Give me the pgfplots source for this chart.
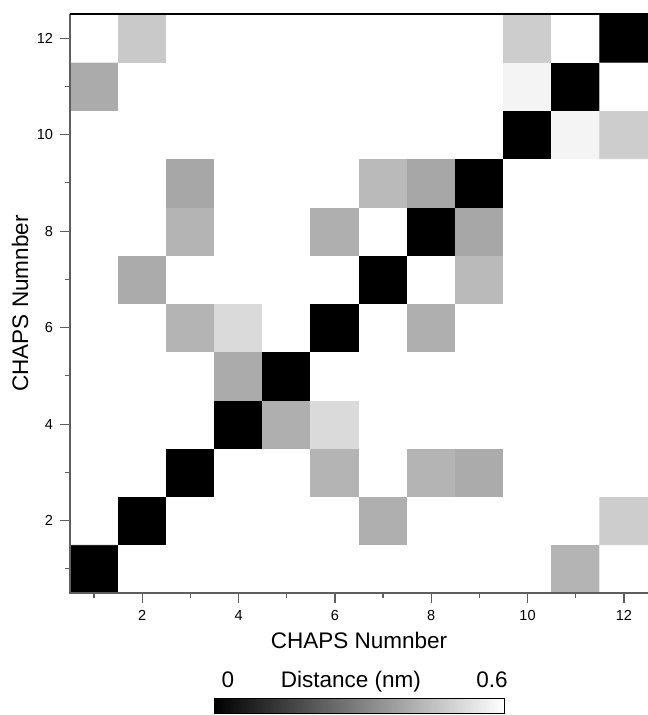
\documentclass[border=0pt]{standalone}
\usepackage{fontspec}
\setmainfont{Liberation Sans}
\usepackage{pgfplots}
\pgfplotsset{compat=1.18}
\definecolor{axgray}{RGB}{95,95,95}

\begin{document}
\begin{tikzpicture}
\useasboundingbox (-35bp,-61bp) rectangle (289bp,296.5bp);
\begin{axis}[
  at={(0,0)}, anchor=south west,
  scale only axis, width=289bp, height=289.5bp,
  xmin=0.5, xmax=12.5, ymin=0.5, ymax=12.5,
  enlargelimits=false, clip=false,
  axis line style={draw=none},
  tick pos=left, tick align=outside,
  xtick={2,4,...,12}, ytick={2,4,...,12},
  minor xtick={1,3,...,11}, minor ytick={1,3,...,11},
  major tick length=5bp, minor tick length=2.5bp,
  every tick/.style={axgray, line width=0.6bp},
  tick label style={font=\fontsize{7.3}{8}\selectfont},
  /pgf/number format/assume math mode=true,
  xlabel={CHAPS Numnber}, ylabel={CHAPS Numnber},
  label style={font=\fontsize{11.3}{13}\selectfont},
  xlabel style={at={(axis description cs:0.5,-0.095)}, anchor=base},
  ylabel style={at={(axis description cs:-0.0865,0.5)}, anchor=center},
  colormap={bw}{gray(0cm)=(0); gray(1cm)=(1)},
  point meta min=0, point meta max=0.6,
  colorbar horizontal,
  colorbar style={
    at={(parent axis.south)}, anchor=north, yshift=-44bp,
    scale only axis, width=145bp, height=7.6bp,
    xtick=\empty, ytick=\empty, xlabel={}, ylabel={},
    axis line style={black, line width=0.5bp},
  },
]
\addplot[matrix plot*, point meta=explicit, mesh/cols=12] coordinates {
(1,1)[0] (2,1)[0.6] (3,1)[0.6] (4,1)[0.6] (5,1)[0.6] (6,1)[0.6] (7,1)[0.6] (8,1)[0.6] (9,1)[0.6] (10,1)[0.6] (11,1)[0.42] (12,1)[0.6]
(1,2)[0.6] (2,2)[0] (3,2)[0.6] (4,2)[0.6] (5,2)[0.6] (6,2)[0.6] (7,2)[0.41] (8,2)[0.6] (9,2)[0.6] (10,2)[0.6] (11,2)[0.6] (12,2)[0.48]
(1,3)[0.6] (2,3)[0.6] (3,3)[0] (4,3)[0.6] (5,3)[0.6] (6,3)[0.42] (7,3)[0.6] (8,3)[0.42] (9,3)[0.40] (10,3)[0.6] (11,3)[0.6] (12,3)[0.6]
(1,4)[0.6] (2,4)[0.6] (3,4)[0.6] (4,4)[0] (5,4)[0.41] (6,4)[0.51] (7,4)[0.6] (8,4)[0.6] (9,4)[0.6] (10,4)[0.6] (11,4)[0.6] (12,4)[0.6]
(1,5)[0.6] (2,5)[0.6] (3,5)[0.6] (4,5)[0.40] (5,5)[0] (6,5)[0.6] (7,5)[0.6] (8,5)[0.6] (9,5)[0.6] (10,5)[0.6] (11,5)[0.6] (12,5)[0.6]
(1,6)[0.6] (2,6)[0.6] (3,6)[0.42] (4,6)[0.51] (5,6)[0.6] (6,6)[0] (7,6)[0.6] (8,6)[0.41] (9,6)[0.6] (10,6)[0.6] (11,6)[0.6] (12,6)[0.6]
(1,7)[0.6] (2,7)[0.40] (3,7)[0.6] (4,7)[0.6] (5,7)[0.6] (6,7)[0.6] (7,7)[0] (8,7)[0.6] (9,7)[0.435] (10,7)[0.6] (11,7)[0.6] (12,7)[0.6]
(1,8)[0.6] (2,8)[0.6] (3,8)[0.42] (4,8)[0.6] (5,8)[0.6] (6,8)[0.41] (7,8)[0.6] (8,8)[0] (9,8)[0.39] (10,8)[0.6] (11,8)[0.6] (12,8)[0.6]
(1,9)[0.6] (2,9)[0.6] (3,9)[0.39] (4,9)[0.6] (5,9)[0.6] (6,9)[0.6] (7,9)[0.435] (8,9)[0.39] (9,9)[0] (10,9)[0.6] (11,9)[0.6] (12,9)[0.6]
(1,10)[0.6] (2,10)[0.6] (3,10)[0.6] (4,10)[0.6] (5,10)[0.6] (6,10)[0.6] (7,10)[0.6] (8,10)[0.6] (9,10)[0.6] (10,10)[0] (11,10)[0.57] (12,10)[0.48]
(1,11)[0.40] (2,11)[0.6] (3,11)[0.6] (4,11)[0.6] (5,11)[0.6] (6,11)[0.6] (7,11)[0.6] (8,11)[0.6] (9,11)[0.6] (10,11)[0.57] (11,11)[0] (12,11)[0.6]
(1,12)[0.6] (2,12)[0.47] (3,12)[0.6] (4,12)[0.6] (5,12)[0.6] (6,12)[0.6] (7,12)[0.6] (8,12)[0.6] (9,12)[0.6] (10,12)[0.48] (11,12)[0.6] (12,12)[0]
};
% frame: gray left/bottom, black top
\draw[axgray, line width=1bp] (rel axis cs:0,1) -- (rel axis cs:0,0) -- (rel axis cs:1,0);
\draw[black, line width=1bp] (rel axis cs:0,1) -- (rel axis cs:1,1);
% colorbar labels
\node[font=\fontsize{11.3}{13}\selectfont, anchor=base] at (axis description cs:0.273,-0.164) {0};
\node[font=\fontsize{11.3}{13}\selectfont, anchor=base] at (axis description cs:0.486,-0.164) {Distance (nm)};
\node[font=\fontsize{11.3}{13}\selectfont, anchor=base east, inner sep=0pt] at (axis description cs:0.758,-0.164) {0.6};
\end{axis}
\end{tikzpicture}
\end{document}
